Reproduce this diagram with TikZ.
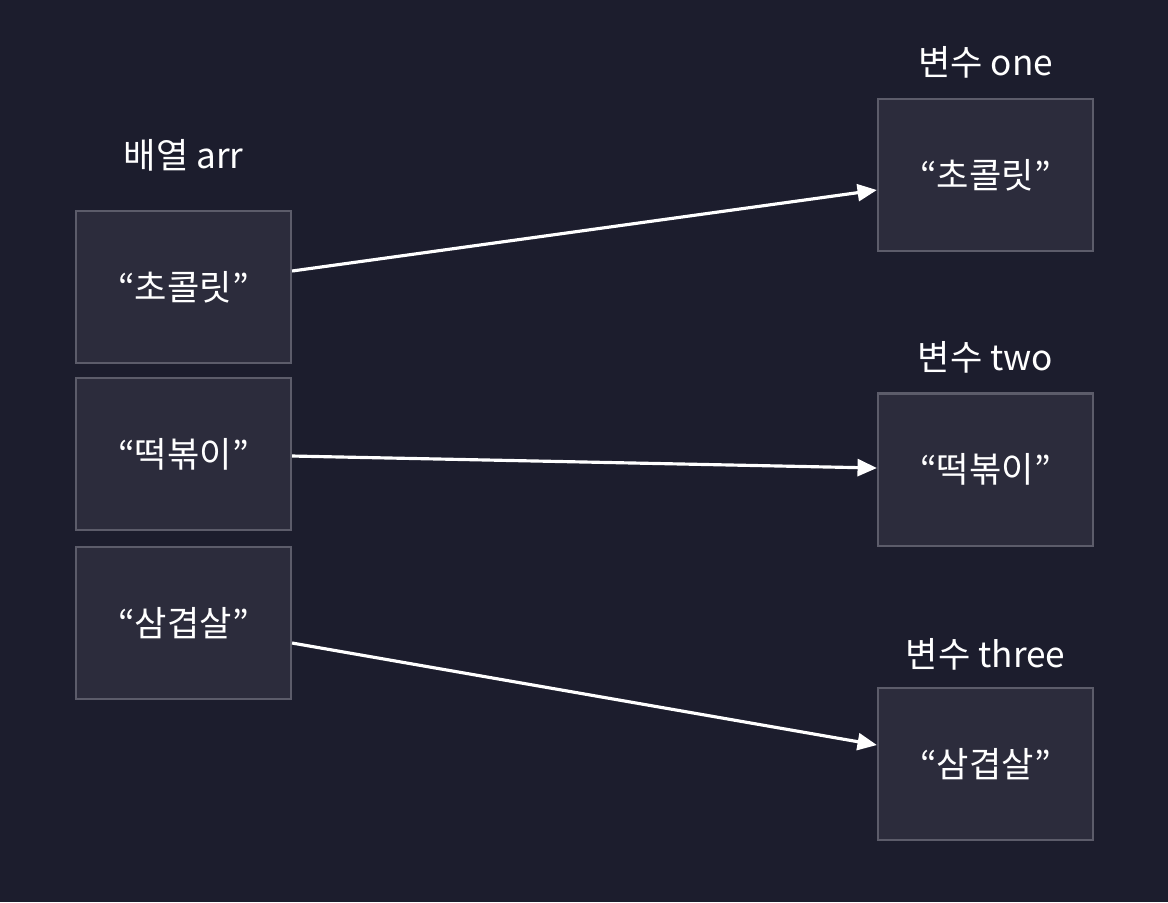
\documentclass[tikz,border=0pt]{standalone}
\usepackage{fontspec}
\setmainfont{Noto Sans CJK KR}
\usepackage{tikz}
\usetikzlibrary{positioning, arrows.meta, calc}
\usepackage{xcolor}
\definecolor{bgnavy}{HTML}{1C1D2D}
\definecolor{boxfill}{HTML}{2C2C3C}
\definecolor{boxline}{HTML}{5C5C6A}

\begin{document}
\begin{tikzpicture}[x=0.01cm, y=-0.01cm,
  cell/.style={draw=boxline, fill=boxfill, line width=0.6pt, minimum width=2.15cm,
    minimum height=1.52cm, inner sep=0pt, text=white, font=\fontsize{10}{12}\selectfont},
  title/.style={text=white, font=\fontsize{10}{12}\selectfont},
  ref/.style={-{Triangle[length=5.5pt, width=4.8pt]}, white, line width=0.9pt}]
\fill[bgnavy] (0,0) rectangle (1168,902);
\useasboundingbox (0,0) rectangle (1168,902);
\node[cell] (arr0) at (183.5,287) {“초콜릿”};
\node[cell] (arr1) at (183.5,454) {“떡볶이”};
\node[cell] (arr2) at (183.5,623) {“삼겹살”};
\node[title] (arrlbl) at (183.5,155) {배열 arr};
\node[cell] (one) at (985.5,175) {“초콜릿”};
\node[cell] (two) at (985.5,469.5) {“떡볶이”};
\node[cell] (three) at (985.5,764) {“삼겹살”};
\node[title] (onelbl) at (985.5,62) {변수 one};
\node[title] (twolbl) at (985.5,357) {변수 two};
\node[title] (threelbl) at (985.5,654) {변수 three};
\draw[ref] ($(arr0.east)+(0,-16)$) -- ($(one.west)+(0,15)$);
\draw[ref] ($(arr1.east)+(0,2)$) -- ($(two.west)+(0,-1.5)$);
\draw[ref] ($(arr2.east)+(0,20)$) -- ($(three.west)+(0,-19)$);
\end{tikzpicture}
\end{document}
